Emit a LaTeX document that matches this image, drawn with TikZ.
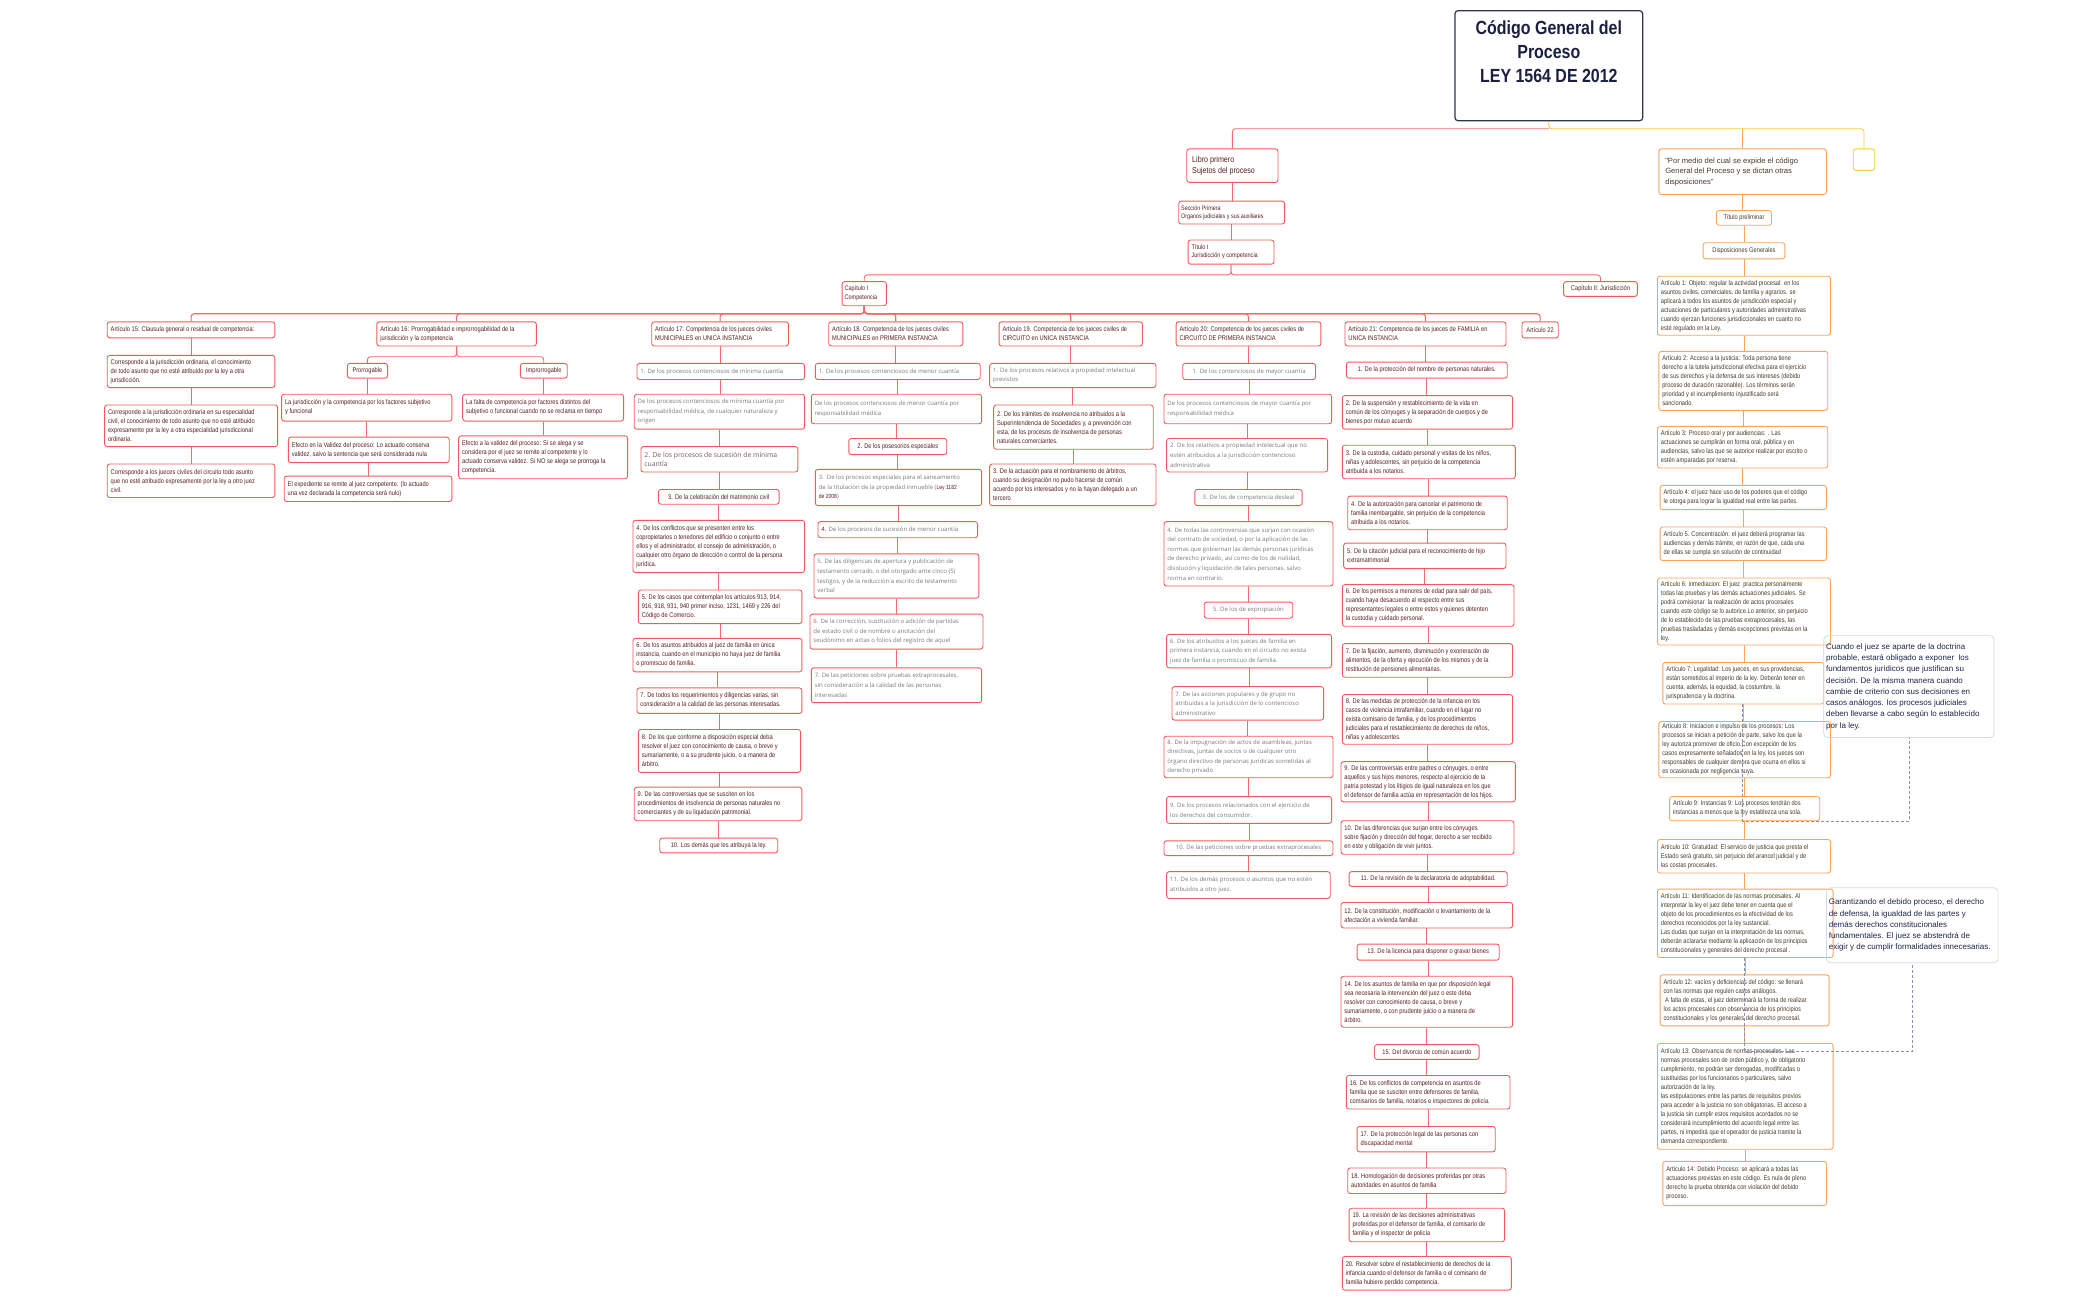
\documentclass[tikz,border=0pt]{standalone}
\usepackage{fontspec}
\setmainfont{Liberation Sans}
\newfontfamily\nf[FakeStretch=0.84]{Liberation Sans}
\newfontfamily\of{Open Sans}
\newfontfamily\af{Liberation Sans}
\pgfdeclarelayer{bg}
\pgfsetlayers{bg,main}
\definecolor{rb}{HTML}{F25A5A}
\definecolor{rl}{HTML}{F26B6B}
\definecolor{rt}{HTML}{5B1F1F}
\definecolor{gt}{HTML}{7A7A7A}
\definecolor{gbr}{HTML}{7A5A5A}
\definecolor{ob}{HTML}{F7A55B}
\definecolor{ot}{HTML}{4A3A28}
\definecolor{yl}{HTML}{F5CF3C}
\definecolor{tb}{HTML}{2E3550}
\definecolor{tt}{HTML}{1B2040}
\definecolor{cb}{HTML}{D5D7E0}
\definecolor{ct}{HTML}{1E2548}
\definecolor{dl}{HTML}{8C8FA8}
\tikzset{
  rbox/.style={draw=rb, line width=0.9pt, rounded corners=2.5pt, fill=white, text=rt,
    font=\nf\fontsize{6.8}{9}\selectfont, align=left, inner xsep=3pt, inner ysep=1pt},
  gbox/.style={rbox, text=gt, font=\of\fontsize{6}{9.6}\selectfont},
  obox/.style={rbox, draw=ob, text=ot},
  ctr/.style={align=center},
  conn/.style={draw=rl, line width=0.9pt, rounded corners=3pt},
  oconn/.style={draw=ob, line width=0.9pt, rounded corners=3pt},
  yconn/.style={draw=yl, line width=0.9pt, rounded corners=3pt},
  dashc/.style={draw=dl, line width=0.8pt, dash pattern=on 3pt off 2pt},
  callbox/.style={draw=cb, line width=0.7pt, rounded corners=4pt, text=ct,
    font=\af\fontsize{8}{11.3}\selectfont, align=left, inner xsep=2pt, inner ysep=1pt}
}
% left-aligned box: #1 style, #2 name, #3 x1, #4 y1, #5 x2, #6 y2, #7 text
\newcommand\bx[7][]{%
  \pgfmathsetmacro\bxw{(#5-#3)*1.341}%
  \pgfmathsetmacro\bxh{(#6-#4)*1.341}%
  \pgfmathsetmacro\bxcx{(#3+#5)/2}%
  \pgfmathsetmacro\bxcy{(#4+#6)/2}%
  \node[rbox,minimum width=\bxw pt,minimum height=\bxh pt,#1] (#2) at (\bxcx,\bxcy) {};
  \node[rbox,#1,draw=none,fill=none,anchor=west] (#2t) at (#3,\bxcy) {#7};}
% centred box
\newcommand\bc[7][]{%
  \pgfmathsetmacro\bxw{(#5-#3)*1.341}%
  \pgfmathsetmacro\bxh{(#6-#4)*1.341}%
  \pgfmathsetmacro\bxcx{(#3+#5)/2}%
  \pgfmathsetmacro\bxcy{(#4+#6)/2}%
  \node[rbox,minimum width=\bxw pt,minimum height=\bxh pt,align=center,#1] (#2) at (\bxcx,\bxcy) {#7};}
\begin{document}
\begin{tikzpicture}[x=1.341pt,y=-1.341pt]
\useasboundingbox (0,0) rectangle (1566,968.7);
\coordinate (topbus) at (0,96);
\coordinate (t1bus) at (0,205);
\coordinate (capbus) at (0,234);
\coordinate (a16bus) at (0,266);
\coordinate (d2) at (0,784);

% title
\bc[draw=tb, line width=1.2pt, rounded corners=3pt]{title}{1085}{8}{1225}{90}{}
\node[font=\nf\bfseries\fontsize{19}{23.7}\selectfont, text=tt, align=center, anchor=north] (titletxt) at (1155,13) {Código General del\\Proceso\\LEY 1564 DE 2012};

% red main chain
\bx[font=\nf\fontsize{8.5}{11.5}\selectfont, inner xsep=5pt]{libro}{885}{111}{953}{136}{Libro primero\\Sujetos del proceso}
\bx[font=\nf\fontsize{6.4}{8}\selectfont, inner xsep=2pt]{secc}{879}{150}{958}{167}{Sección Primera\\Organos judiciales y sus auxiliares}
\bx[font=\nf\fontsize{6.6}{8.2}\selectfont]{tit1}{886}{179}{950}{197}{Título I\\Jurisdicción y competencia}
\bx[font=\nf\fontsize{6.6}{9}\selectfont, inner xsep=2pt]{cap1}{628}{210}{661}{228}{Capítulo I\\Competencia}
\bc{cap2}{1166}{210}{1221}{221}{Capítulo II: Jurisdicción}

% article headers
\bx{a15}{80}{240}{205}{252}{Artículo 15: Clausula general o residual de competencia:}
\bx{a16}{281}{240}{400}{258}{Artículo 16: Prorrogabilidad e improrrogabilidad de la\\jurisdicción y la competencia}
\bx{a17}{486}{240}{588}{258}{Artículo 17: Competencia de los jueces civiles\\MUNICIPALES en UNICA INSTANCIA}
\bx{a18}{618}{240}{718}{258}{Artículo 18. Competencia de los jueces civiles\\MUNICIPALES en PRIMERA INSTANCIA}
\bx{a19}{745}{240}{852}{258}{Artículo 19. Competencia de los jueces civiles de\\CIRCUITO en UNICA INSTANCIA}
\bx{a20}{877}{240}{985}{258}{Artículo 20: Competencia de los jueces civiles de\\CIRCUITO DE PRIMERA INSTANCIA}
\bx{a21}{1003}{240}{1123}{258}{Artículo 21: Competencia de los jueces de FAMILIA en\\UNICA INSTANCIA}
\bc{a22}{1135}{240}{1162}{252}{Artículo 22}

% Art 15
\bx{a15a}{80}{265}{205}{289}{Corresponde a la jurisdicción ordinaria, el conocimiento\\de todo asunto que no esté atribuido por la ley a otra\\jurisdicción.}
\bx{a15b}{78}{302}{207}{333}{Corresponde a la jurisdicción ordinaria en su especialidad\\civil, el conocimiento de todo asunto que no esté atribuido\\expresamente por la ley a otra especialidad jurisdiccional\\ordinaria.}
\bx{a15c}{80}{346}{205}{371}{Corresponde a los jueces civiles del circuito todo asunto\\que no esté atribuido expresamente por la ley a otro juez\\civil.}

% Art 16
\bc{pro}{259}{271}{289}{282}{Prorrogable}
\bc{imp}{388}{271}{423}{282}{Improrrogable}
\bx{pa}{210}{294}{337}{314}{La jurisdicción y la competencia por los factores subjetivo\\y funcional}
\bx{pb}{215}{326}{335}{345}{Efecto en la Validez del proceso: Lo actuado conserva\\validez, salvo la sentencia que será considerada nula}
\bx{pc}{212}{355}{337}{374}{El expediente se remite al juez competente. (lo actuado\\una vez declarada la competencia será nulo)}
\bx{ia}{345}{294}{465}{314}{La falta de competencia por factores distintos del\\subjetivo o funcional cuando no se reclama en tiempo}
\bx{ib}{342}{325}{468}{357}{Efecto a la validez del proceso: Si se alega y se\\considera por el juez se remite al competente y lo\\actuado conserva validez. Si NO se alega se prorroga la\\competencia.}

% Art 17
\bx[gbox]{a17a}{475}{271}{600}{283}{1. De los procesos contenciosos de mínima cuantía}
\bx[gbox]{a17b}{473}{294}{600}{320}{De los procesos contenciosos de mínima cuantía por\\responsabilidad médica, de cualquier naturaleza y\\origen}
\bx[gbox, text=gbr, font=\of\fontsize{6.8}{9.6}\selectfont]{a17c}{478}{333}{595}{352}{2. De los procesos de sucesión de mínima\\cuantía}
\bc{a17d}{491}{365}{581}{376}{3. De la celebración del matrimonio civil}
\bx{a17e}{472}{388}{600}{427}{4. De los conflictos que se presenten entre los\\copropietarios o tenedores del edificio o conjunto o entre\\ellos y el administrador, el consejo de administración, o\\cualquier otro órgano de dirección o control de la persona\\jurídica.}
\bx{a17f}{476}{440}{598}{465}{5. De los casos que contemplan los artículos 913, 914,\\916, 918, 931, 940 primer inciso, 1231, 1469 y 226 del\\Código de Comercio.}
\bx{a17g}{472}{476}{598}{501}{6. De los asuntos atribuidos al juez de familia en única\\instancia, cuando en el municipio no haya juez de familia\\o promiscuo de familia.}
\bx{a17h}{475}{513}{598}{532}{7. De todos los requerimientos y diligencias varias, sin\\consideración a la calidad de las personas interesadas.}
\bx{a17i}{476}{544}{597}{576}{8. De los que conforme a disposición especial deba\\resolver el juez con conocimiento de causa, o breve y\\sumariamente, o a su prudente juicio, o a manera de\\árbitro.}
\bx{a17j}{473}{587}{598}{612}{9. De las controversias que se susciten en los\\procedimientos de insolvencia de personas naturales no\\comerciantes y de su liquidación patrimonial.}
\bc{a17k}{492}{625}{580}{636}{10. Los demás que les atribuya la ley.}

% Art 18
\bx[gbox]{a18a}{608}{271}{731}{283}{1. De los procesos contenciosos de menor cuantía}
\bx[gbox]{a18b}{605}{294}{732}{316}{De los procesos contenciosos de menor cuantía por\\responsabilidad médica}
\bc{a18c}{633}{327}{706}{339}{2. De los posesorios especiales}
\bx[gbox]{a18d}{608}{350}{732}{377}{3.\ \ De los procesos especiales para el saneamiento\\de la titulación de la propiedad inmueble ({\nf\color{rt}Ley 1182}\\{\nf\color{rt}de 2008})}
\bx[gbox]{a18e}{610}{389}{729}{401}{{\color{rt}4.} De los procesos de sucesión de menor cuantía}
\bx[gbox]{a18f}{607}{413}{730}{446}{5. De las diligencias de apertura y publicación de\\testamento cerrado, o del otorgado ante cinco (5)\\testigos, y de la reducción a escrito de testamento\\verbal}
\bx[gbox]{a18g}{604}{458}{733}{484}{6. De la corrección, sustitución o adición de partidas\\de estado civil o de nombre o anotación del\\seudónimo en actas o folios del registro de aquel}
\bx[gbox]{a18h}{605}{498}{732}{524}{7. De las peticiones sobre pruebas extraprocesales,\\sin consideración a la calidad de las personas\\interesadas}

% Art 19
\bx[gbox]{a19a}{738}{271}{862}{289}{1. De los procesos relativos a propiedad intelectual\\previstos}
\bx{a19b}{741}{302}{860}{335}{2. De los trámites de insolvencia no atribuidos a la\\Superintendencia de Sociedades y, a prevención con\\esta, de los procesos de insolvencia de personas\\naturales comerciantes.}
\bx{a19c}{738}{346}{862}{377}{3. De la actuación para el nombramiento de árbitros,\\cuando su designación no pudo hacerse de común\\acuerdo por los interesados y no la hayan delegado a un\\tercero}

% Art 20
\bc[gbox,align=center]{a20a}{882}{271}{981}{283}{1. De los contenciosos de mayor cuantía}
\bx[gbox]{a20b}{868}{294}{993}{316}{De los procesos contenciosos de mayor cuantía por\\responsabilidad médica}
\bx[gbox]{a20c}{870}{327}{990}{352}{2. De los relativos a propiedad intelectual que no\\estén atribuidos a la jurisdicción contencioso\\administrativa}
\bc[gbox,align=center]{a20d}{891}{365}{971}{377}{3. De los de competencia desleal}
\bx[gbox]{a20e}{868}{389}{994}{437}{4. De todas las controversias que surjan con ocasión\\del contrato de sociedad, o por la aplicación de las\\normas que gobiernan las demás personas jurídicas\\de derecho privado, así como de los de nulidad,\\disolución y liquidación de tales personas, salvo\\norma en contrario.}
\bc[gbox,align=center]{a20f}{898}{449}{964}{461}{5. De los de expropiación}
\bx[gbox]{a20g}{870}{473}{993}{498}{6. De los atribuidos a los jueces de familia en\\primera instancia, cuando en el circuito no exista\\juez de familia o promiscuo de familia.}
\bx[gbox]{a20h}{874}{512}{987}{537}{7. De las acciones populares y de grupo no\\atribuidas a la jurisdicción de lo contencioso\\administrativo}
\bx[gbox]{a20i}{868}{549}{994}{580}{8. De la impugnación de actos de asambleas, juntas\\directivas, juntas de socios o de cualquier otro\\órgano directivo de personas jurídicas sometidas al\\derecho privado}
\bx[gbox]{a20j}{870}{594}{993}{614}{9. De los procesos relacionados con el ejercicio de\\los derechos del consumidor.}
\bc[gbox,align=center]{a20k}{868}{627}{994}{638}{10. De las peticiones sobre pruebas extraprocesales}
\bx[gbox]{a20l}{870}{650}{992}{670}{11. De los demás procesos o asuntos que no estén\\atribuidos a otro juez.}

% Art 21
\bc{b1}{1004}{270}{1124}{282}{1. De la protección del nombre de personas naturales.}
\bx{b2}{1001}{295}{1128}{320}{2. De la suspensión y restablecimiento de la vida en\\común de los cónyuges y la separación de cuerpos y de\\bienes por mutuo acuerdo}
\bx{b3}{1001}{332}{1130}{357}{3. De la custodia, cuidado personal y visitas de los niños,\\niñas y adolescentes, sin perjuicio de la competencia\\atribuida a los notarios.}
\bx{b4}{1005}{370}{1124}{395}{4. De la autorización para cancelar el patrimonio de\\familia inembargable, sin perjuicio de la competencia\\atribuida a los notarios.}
\bx{b5}{1002}{405}{1123}{424}{5. De la citación judicial para el reconocimiento de hijo\\extramatrimonial}
\bx{b6}{1001}{436}{1129}{467}{6. De los permisos a menores de edad para salir del país,\\cuando haya desacuerdo al respecto entre sus\\representantes legales o entre estos y quienes detenten\\la custodia y cuidado personal.}
\bx{b7}{1001}{480}{1128}{505}{7. De la fijación, aumento, disminución y exoneración de\\alimentos, de la oferta y ejecución de los mismos y de la\\restitución de pensiones alimentarias.}
\bx{b8}{1001}{518}{1128}{555}{8. De las medidas de protección de la infancia en los\\casos de violencia intrafamiliar, cuando en el lugar no\\exista comisario de familia, y de los procedimientos\\judiciales para el restablecimiento de derechos de niños,\\niñas y adolescentes.}
\bx{b9}{1000}{568}{1130}{598}{9. De las controversias entre padres o cónyuges, o entre\\aquellos y sus hijos menores, respecto al ejercicio de la\\patria potestad y los litigios de igual naturaleza en los que\\el defensor de familia actúa en representación de los hijos.}
\bx{b10}{1000}{612}{1129}{637}{10. De las diferencias que surjan entre los cónyuges\\sobre fijación y dirección del hogar, derecho a ser recibido\\en este y obligación de vivir juntos.}
\bc{b11}{1006}{650}{1124}{661}{11. De la revisión de la declaratoria de adoptabilidad.}
\bx{b12}{1000}{673}{1128}{692}{12. De la constitución, modificación o levantamiento de la\\afectación a vivienda familiar.}
\bc{b13}{1012}{704}{1118}{716}{13. De la licencia para disponer o gravar bienes}
\bx{b14}{1000}{728}{1128}{766}{14. De los asuntos de familia en que por disposición legal\\sea necesaria la intervención del juez o este deba\\resolver con conocimiento de causa, o breve y\\sumariamente, o con prudente juicio o a manera de\\árbitro.}
\bc{b15}{1025}{779}{1103}{790}{15. Del divorcio de común acuerdo}
\bx{b16}{1004}{802}{1126}{827}{16. De los conflictos de competencia en asuntos de\\familia que se susciten entre defensores de familia,\\comisarios de familia, notarios e inspectores de policía.}
\bx{b17}{1012}{840}{1115}{859}{17. De la protección legal de las personas con\\discapacidad mental}
\bx{b18}{1005}{871}{1123}{890}{18. Homologación de decisiones proferidas por otras\\autoridades en asuntos de familia}
\bx{b19}{1006}{901}{1122}{926}{19. La revisión de las decisiones administrativas\\proferidas por el defensor de familia, el comisario de\\familia y el inspector de policía}
\bx{b20}{1001}{937}{1127}{962}{20. Resolver sobre el restablecimiento de derechos de la\\infancia cuando el defensor de familia o el comisario de\\familia hubiere perdido competencia.}

% right column
\bx[obox, font=\af\fontsize{7.6}{10.5}\selectfont, inner xsep=6pt]{pm}{1237}{111}{1362}{145}{"Por medio del cual se expide el código\\General del Proceso y se dictan otras\\disposiciones"}
\bc[obox]{tp}{1280}{157}{1321}{168}{Título preliminar}
\bc[obox]{dg}{1270}{181}{1331}{193}{Disposiciones Generales}
\bx[obox]{r1}{1236}{206}{1365}{250}{Artículo 1: Objeto: regular la actividad procesal: en los\\asuntos civiles, comerciales, de familia y agrarios. se\\aplicará a todos los asuntos de jurisdicción especial y\\actuaciones de particulares y autoridades administrativas\\cuando ejerzan funciones jurisdiccionales en cuanto no\\esté regulado en la Ley.}
\bx[obox]{r2}{1237}{262}{1363}{306}{Artículo 2: Acceso a la justicia: Toda persona tiene\\derecho a la tutela jurisdiccional efectiva para el ejercicio\\de sus derechos y la defensa de sus intereses (debido\\proceso de duración razonable). Los términos serán\\prioridad y el incumplimiento injustificado será\\sancionado.}
\bx[obox]{r3}{1236}{318}{1363}{349}{Artículo 3: Proceso oral y por audiencias: . Las\\actuaciones se cumplirán en forma oral, pública y en\\audiencias, salvo las que se autorice realizar por escrito o\\estén amparadas por reserva.}
\bx[obox]{r4}{1238}{362}{1362}{380}{Artículo 4: el juez hace uso de los poderes que el código\\le otorga para lograr la igualdad real entre las partes.}
\bx[obox]{r5}{1238}{393}{1362}{418}{Artículo 5. Concentración: el juez deberá programar las\\audiencias y demás trámite, en razón de que, cada una\\de ellas se cumpla sin solución de continuidad}
\bx[obox]{r6}{1236}{431}{1365}{481}{Artículo 6: inmediacion: El juez\ \ practica personalmente\\todas las pruebas y las demás actuaciones judiciales. Se\\podrá comisionar\ \ la realización de actos procesales\\cuando este código se lo autorice.Lo anterior, sin perjuicio\\de lo establecido de las pruebas extraprocesales, las\\pruebas trasladadas y demás excepciones previstas en la\\ley.}
\bx[obox]{r7}{1240}{494}{1360}{525}{Artículo 7; Legalidad: Los jueces, en sus providencias,\\están sometidos al imperio de la ley. Deberán tener en\\cuenta, además, la equidad, la costumbre, la\\jurisprudencia y la doctrina.}
\bx[obox]{r8}{1237}{538}{1365}{580}{Artículo 8: Iniciacion e impulso de los procesos: Los\\procesos se inician a petición de parte, salvo los que la\\ley autoriza promover de oficio.Con excepción de los\\casos expresamente señalados en la ley, los jueces son\\responsables de cualquier demora que ocurra en ellos si\\es ocasionada por negligencia suya.}
\bx[obox]{r9}{1245}{594}{1357}{612}{Artículo 9: Instancias 9: Los procesos tendrán dos\\instancias a menos que la ley establezca una sola.}
\bx[obox]{r10}{1236}{626}{1365}{651}{Artículo 10: Gratuidad: El servicio de justicia que presta el\\Estado será gratuito, sin perjuicio del arancel judicial y de\\las costas procesales.}
\bx[obox]{r11}{1236}{663}{1367}{714}{Artículo 11: Identificacion de las normas procesales. Al\\interpretar la ley el juez debe tener en cuenta que el\\objeto de los procedimientos es la efectividad de los\\derechos reconocidos por la ley sustancial.\\Las dudas que surjan en la interpretación de las normas,\\deberán aclararse mediante la aplicación de los principios\\constitucionales y generales del derecho procesal .}
\bx[obox]{r12}{1238}{727}{1364}{765}{Artículo 12: vacíos y deficiencias del código: se llenará\\con las normas que regulen casos análogos.\\\ A falta de estas, el juez determinará la forma de realizar\\los actos procesales con observancia de los principios\\constitucionales y los generales del derecho procesal.}
\bx[obox]{r13}{1236}{778}{1367}{857}{Artículo 13: Observancia de normas procesales. Las\\normas procesales son de orden público y, de obligatorio\\cumplimiento, no podrán ser derogadas, modificadas o\\sustituidas por los funcionarios o particulares, salvo\\autorización de la ley.\\las estipulaciones entre las partes de requisitos previos\\para acceder a la justicia no son obligatorias. El acceso a\\la justicia sin cumplir estos requisitos acordados no se\\considerará incumplimiento del acuerdo legal entre las\\partes, ni impedirá que el operador de justicia tramite la\\demanda correspondiente.}
\bx[obox]{r14}{1240}{866}{1362}{899}{Artículo 14: Debido Proceso: se aplicará a todas las\\actuaciones previstas en este código. Es nula de pleno\\derecho la prueba obtenida con violación del debido\\proceso.}
\bc[draw=yl]{yb}{1382}{111}{1398}{127}{}

% connectors (background)
\begin{pgfonlayer}{bg}
  \draw[yconn] (title.south) -- (title.south |- topbus) -| (yb.north);
  \draw[draw=rl, line width=0.9pt, rounded corners=3pt] (title.south |- topbus) -| (libro.north);
  \draw[oconn] (pm.north |- topbus) -- (pm.north);
  \foreach \a/\b in {libro/secc, secc/tit1}
    \draw[conn] (\a.south) -- (\a.south |- \b.north);
  \foreach \c in {cap1, cap2}
    \draw[conn] (tit1.south) -- (tit1.south |- t1bus) -| (\c.north);
  \foreach \c in {a15, a16, a17, a18, a19, a20, a21, a22}
    \draw[conn, line width=1.1pt] (cap1.south) -- (cap1.south |- capbus) -| (\c.north);
  \foreach \c in {pro, imp}
    \draw[conn] (a16.south) -- (a16.south |- a16bus) -| (\c.north);
  \foreach \a/\b in {a15/a15a, a15a/a15b, a15b/a15c,
      pro/pa, pa/pb, pb/pc, imp/ia, ia/ib,
      a17/a17a, a17a/a17b, a17b/a17c, a17c/a17d, a17d/a17e, a17e/a17f, a17f/a17g, a17g/a17h, a17h/a17i, a17i/a17j, a17j/a17k,
      a18/a18a, a18a/a18b, a18b/a18c, a18c/a18d, a18d/a18e, a18e/a18f, a18f/a18g, a18g/a18h,
      a19/a19a, a19a/a19b, a19b/a19c,
      a20/a20a, a20a/a20b, a20b/a20c, a20c/a20d, a20d/a20e, a20e/a20f, a20f/a20g, a20g/a20h, a20h/a20i, a20i/a20j, a20j/a20k, a20k/a20l,
      a21/b1, b1/b2, b2/b3, b3/b4, b4/b5, b5/b6, b6/b7, b7/b8, b8/b9, b9/b10, b10/b11, b11/b12, b12/b13, b13/b14, b14/b15, b15/b16, b16/b17, b17/b18, b18/b19, b19/b20}
    \draw[conn] (\a.south) -- (\a.south |- \b.north);
  \foreach \a/\b in {pm/tp, tp/dg, dg/r1, r1/r2, r2/r3, r3/r4, r4/r5, r5/r6, r6/r7, r7/r8, r8/r9, r9/r10, r10/r11, r11/r12, r12/r13, r13/r14}
    \draw[oconn] (\a.south) -- (\a.south |- \b.north);
\end{pgfonlayer}

% callouts
\bx[callbox, fill=none]{call1}{1360}{474}{1487}{550}{Cuando el juez se aparte de la doctrina\\probable, estará obligado a exponer\ \ los\\fundamentos jurídicos que justifican su\\decisión. De la misma manera cuando\\cambie de criterio con sus decisiones en\\casos análogos. los procesos judiciales\\deben llevarse a cabo según lo establecido\\por la ley.}
\bx[callbox, fill=none]{call2}{1362}{662}{1490}{718}{Garantizando el debido proceso, el derecho\\de defensa, la igualdad de las partes y\\demás derechos constitucionales\\fundamentales. El juez se abstendrá de\\exigir y de cumplir formalidades innecesarias.}

% dashed links
\draw[dashc] ([xshift=-1pt]r7.south) -- ([xshift=-1pt]r7.south |- r9.south) -| (call1.south);
\draw[dashc] ([xshift=-1pt]r11.south) -- ([xshift=-1pt]r11.south |- d2) -| (call2.south);
\end{tikzpicture}
\end{document}
